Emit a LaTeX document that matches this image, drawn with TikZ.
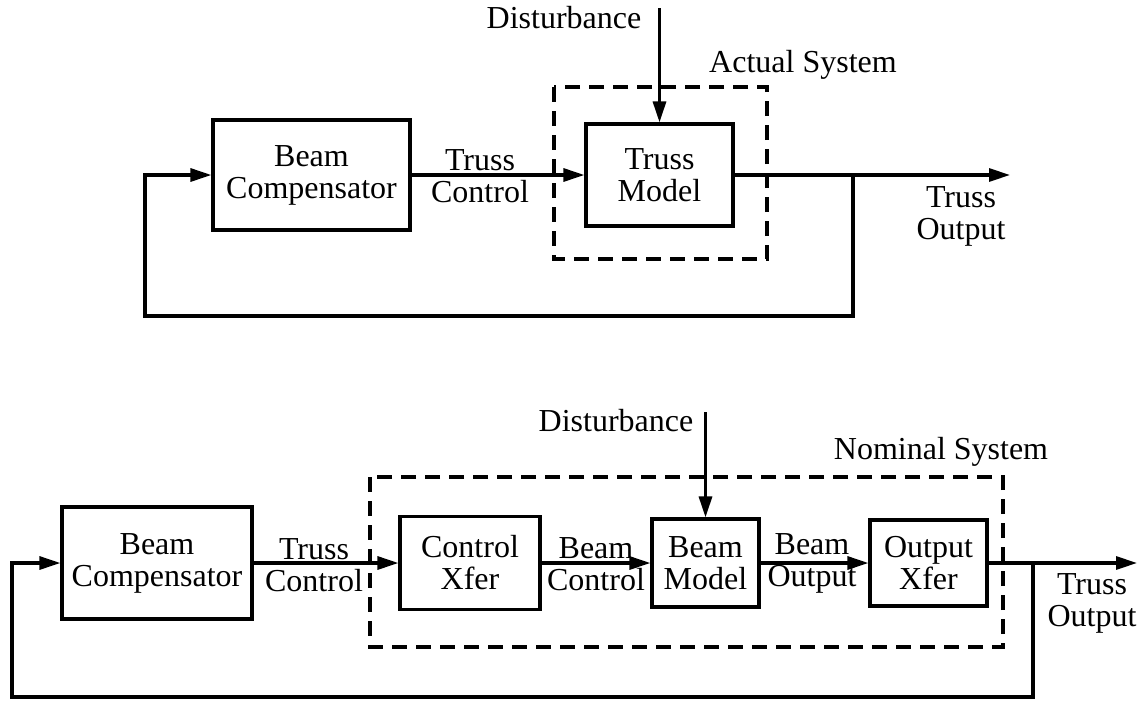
\documentclass[tikz,border=0pt]{standalone}
\usepackage{fontspec}
\setmainfont{Liberation Serif}
\usetikzlibrary{arrows.meta}
\begin{document}
\begin{tikzpicture}[x=1pt,y=-1pt,
  line width=3.2pt,
  txt/.style={font=\fontsize{32}{32}\selectfont, align=center, inner sep=0pt},
  block/.style={txt, draw, rectangle},
  sysbox/.style={draw, dash pattern=on 15pt off 9pt},
  flow/.style={-{Triangle[length=21pt,width=13pt]}},
  wire/.style={line join=miter}
]
\useasboundingbox (0,0) rectangle (1143,702);

% ---------- upper loop: actual system ----------
\node[block, minimum width=197pt, minimum height=110pt] (bcT) at (311.5,175) {Beam\\Compensator};
\node[block, minimum width=147pt, minimum height=102pt] (tm) at (659.5,175) {Truss\\Model};
\draw[sysbox] (554,87) rectangle (767,259);
\coordinate (dT) at (659.5,8);
\coordinate (jT) at (853,175);
\coordinate (outT) at (1010,175);
\coordinate (lT) at (145,316);

\draw[flow] (bcT.east) -- (tm.west);
\draw[flow] (dT) -- (tm.north);
\draw[flow] (tm.east) -- (outT);
\draw[flow, wire] (jT) |- (lT) |- (bcT.west);

\node[txt, anchor=base] (distT) at (564,28) {Disturbance};
\node[txt, anchor=base] (actual) at (803,72) {Actual System};
\node[txt] (tcT) at (480,176) {Truss\\Control};
\node[txt] (toT) at (961,216) {Truss\\Output};

% ---------- lower loop: nominal system ----------
\node[block, minimum width=190pt, minimum height=112pt] (bcB) at (157,563) {Beam\\Compensator};
\node[block, minimum width=140pt, minimum height=93pt] (cx) at (470,563) {Control\\Xfer};
\node[block, minimum width=107pt, minimum height=88pt] (bm) at (705.5,563) {Beam\\Model};
\node[block, minimum width=117pt, minimum height=86pt] (ox) at (928.5,563) {Output\\Xfer};
\draw[sysbox] (370,477) rectangle (1003,647);
\coordinate (dB) at (705.5,412);
\coordinate (jB) at (1033,563);
\coordinate (outB) at (1137,563);
\coordinate (lB) at (12,697);

\draw[flow] (bcB.east) -- (cx.west);
\draw[flow] (cx.east) -- (bm.west);
\draw[flow] (bm.east) -- (ox.west);
\draw[flow] (dB) -- (bm.north);
\draw[flow] (ox.east) -- (outB);
\draw[flow, wire] (jB) |- (lB) |- (bcB.west);

\node[txt, anchor=base] (distB) at (616,431) {Disturbance};
\node[txt, anchor=base] (nominal) at (941,459) {Nominal System};
\node[txt] (tcB) at (314,565) {Truss\\Control};
\node[txt] (bcl) at (596,564) {Beam\\Control};
\node[txt] (bol) at (812,563) {Beam\\Output};
\node[txt] (toB) at (1092,603) {Truss\\Output};
\end{tikzpicture}
\end{document}
